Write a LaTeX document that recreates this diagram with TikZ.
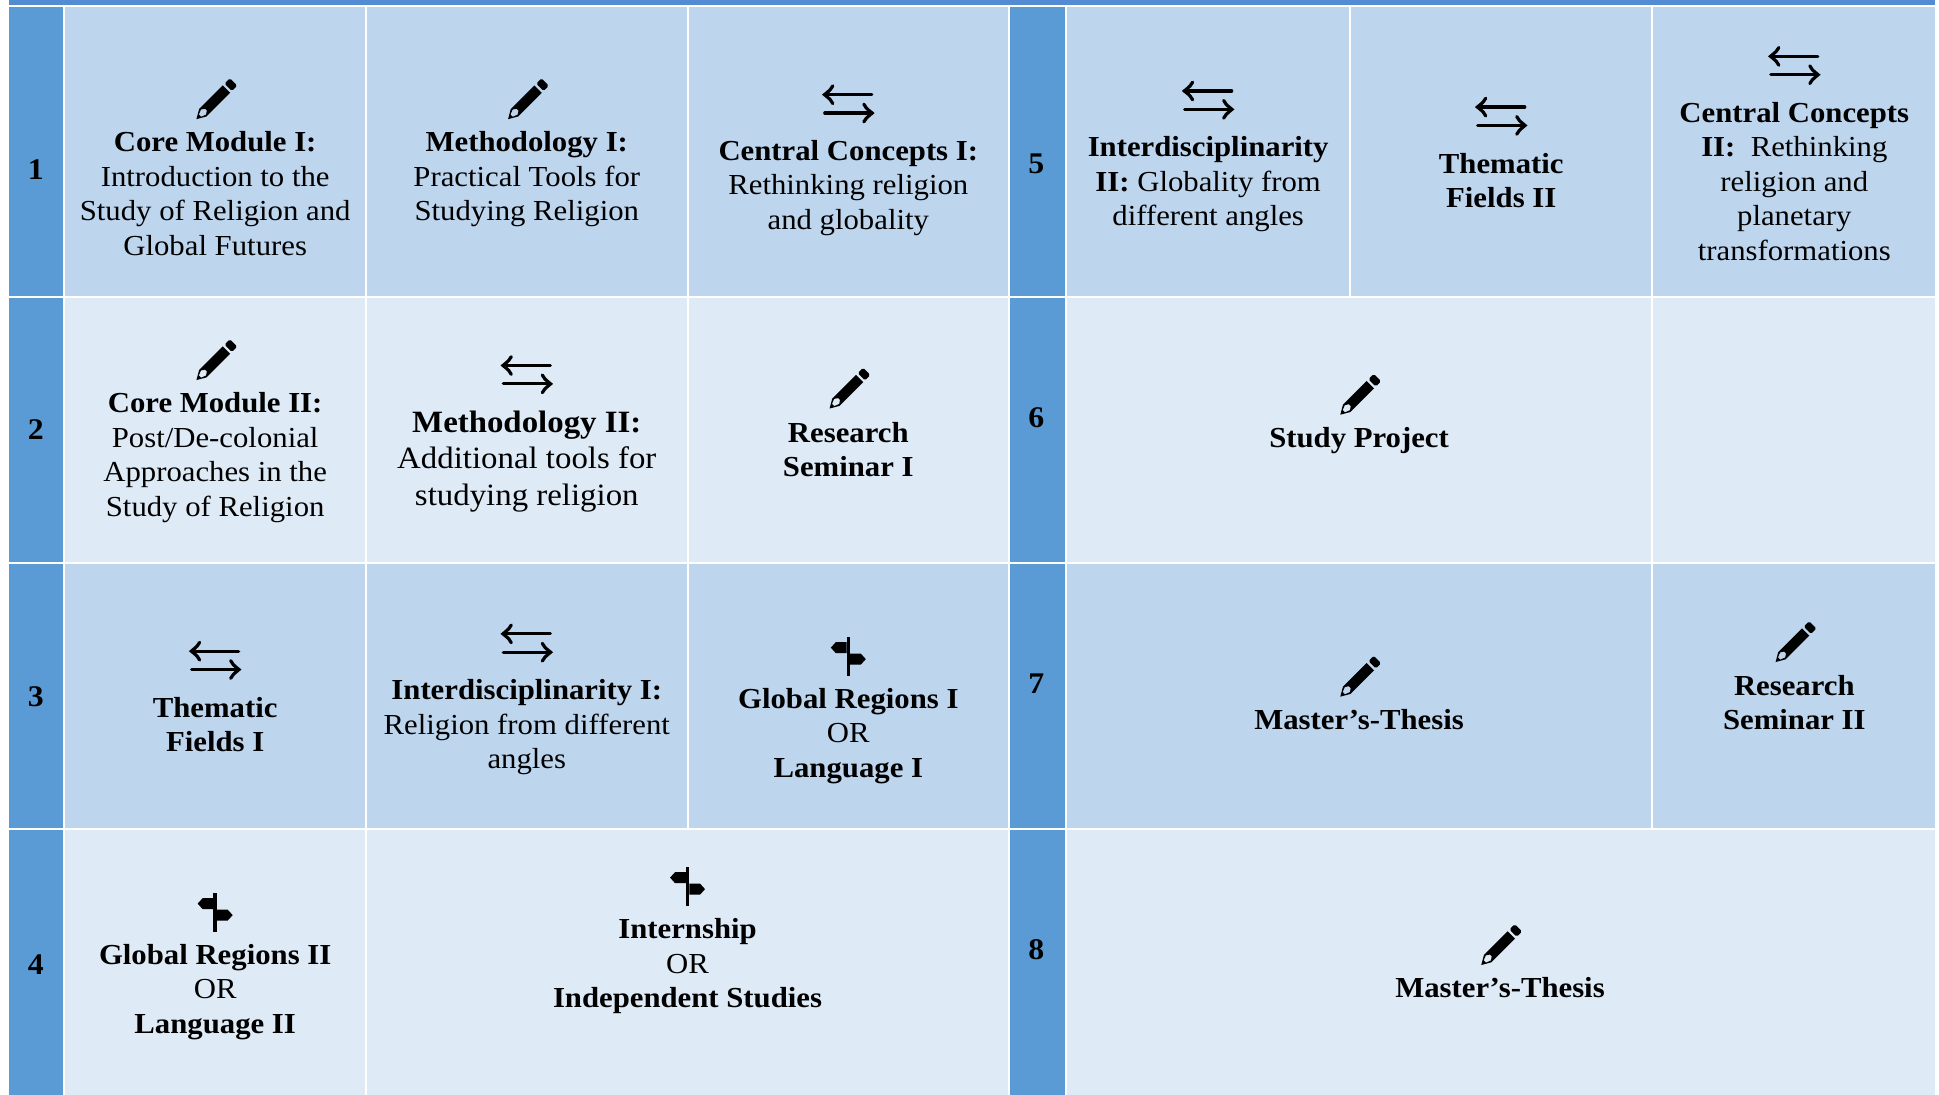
\documentclass[tikz,border=0pt]{standalone}
\usepackage{fontspec}
\setmainfont{Liberation Serif}[FakeStretch=1.06]
\definecolor{hdr}{HTML}{5B9BD5}
\definecolor{topbar}{HTML}{538CD3}
\definecolor{dk}{HTML}{BDD5ED}
\definecolor{lt}{HTML}{DEEAF6}
\newcommand{\BF}[1]{\textbf{#1}}
\tikzset{
  pencilicon/.pic={
    \begin{scope}[x=1pt,y=1pt,yshift=-1.5pt,rotate=45]
      \fill[black,even odd rule] (-26.5,0) -- (-17.5,5.2) -- (-15,5.2) -- (16,5.2) -- (16,-5.2) -- (-15,-5.2) -- (-17.5,-5.2) -- cycle
        (-21.5,-1.6) -- (-21.5,1.6) -- (-16.5,3.6) -- (-13,1.3) -- (-13,-1.3) -- (-16.5,-3.6) -- cycle;
      \fill[black,rounded corners=1.6pt] (18.5,5.2) -- (26,5.2) -- (26,-5.2) -- (18.5,-5.2) -- cycle;
    \end{scope}
  },
  arrowsicon/.pic={
    \begin{scope}[x=1pt,y=-1pt,line width=3.2pt,line cap=round,black]
      \draw (23.5,-9.2) -- (-23.5,-9.2);
      \draw (-15.5,-18) .. controls (-17.5,-14.5) .. (-23.8,-9.2) .. controls (-17.5,-4) .. (-15.5,-0.3);
      \draw (-23.5,9.2) -- (23.5,9.2);
      \draw (15.5,0.3) .. controls (17.5,4) .. (23.8,9.2) .. controls (17.5,14.5) .. (15.5,18);
    \end{scope}
  },
  signicon/.pic={
    \begin{scope}[x=1pt,y=-1pt]
      \fill[black] (-1.7,-19.5) rectangle (1.7,19);
      \fill[black] (-1.7,-14.5) -- (-12.5,-14.5) -- (-17.5,-9) -- (-12.5,-3.5) -- (-1.7,-3.5) -- cycle;
      \fill[black] (1.7,-3) -- (12.5,-3) -- (17.5,2.5) -- (12.5,8) -- (1.7,8) -- cycle;
    \end{scope}
  },
  cellbox/.style={inner sep=0pt,outer sep=0pt,anchor=north west},
  label/.style={inner sep=0pt,outer sep=0pt,anchor=center,align=center,black,
    font=\fontsize{29}{34.5}\selectfont},
  biglabel/.style={label,font=\fontsize{31}{36.5}\selectfont},
  numlabel/.style={inner sep=0pt,outer sep=0pt,anchor=center,black,font=\fontsize{30}{34}\selectfont\bfseries},
}
\newcommand{\cellrect}[6]{% name x0 y0 x1 y1 colour
  \node[cellbox,fill=#6,minimum width=#4pt-#2pt,minimum height=#5pt-#3pt] (#1) at (#2pt,-#3pt) {};}
\begin{document}
\begin{tikzpicture}
\useasboundingbox (0,0) rectangle (1939pt,-1095pt);
\fill[white] (0,0) rectangle (1939pt,-1095pt);
\node[cellbox,fill=topbar,minimum width=1926pt,minimum height=5pt] (bar) at (9pt,0pt) {};
% year column 1
\cellrect{h1}{9}{6.7}{63}{295.7}{hdr}
\cellrect{h2}{9}{297.7}{63}{562.3}{hdr}
\cellrect{h3}{9}{564}{63}{828}{hdr}
\cellrect{h4}{9}{829.5}{63}{1095}{hdr}
\cellrect{h5}{1010}{6.7}{1065}{295.7}{hdr}
\cellrect{h6}{1010}{297.7}{1065}{562.3}{hdr}
\cellrect{h7}{1010}{564}{1065}{828}{hdr}
\cellrect{h8}{1010}{829.5}{1065}{1095}{hdr}
% row 1
\cellrect{a1}{65}{6.7}{365}{295.7}{dk}
\cellrect{a2}{367}{6.7}{687}{295.7}{dk}
\cellrect{a3}{689}{6.7}{1008}{295.7}{dk}
\cellrect{a4}{1067}{6.7}{1349}{295.7}{dk}
\cellrect{a5}{1351}{6.7}{1651}{295.7}{dk}
\cellrect{a6}{1653}{6.7}{1935}{295.7}{dk}
% row 2
\cellrect{b1}{65}{297.7}{365}{562.3}{lt}
\cellrect{b2}{367}{297.7}{687}{562.3}{lt}
\cellrect{b3}{689}{297.7}{1008}{562.3}{lt}
\cellrect{b4}{1067}{297.7}{1651}{562.3}{lt}
\cellrect{b5}{1653}{297.7}{1935}{562.3}{lt}
% row 3
\cellrect{c1}{65}{564}{365}{828}{dk}
\cellrect{c2}{367}{564}{687}{828}{dk}
\cellrect{c3}{689}{564}{1008}{828}{dk}
\cellrect{c4}{1067}{564}{1651}{828}{dk}
\cellrect{c5}{1653}{564}{1935}{828}{dk}
% row 4
\cellrect{d1}{65}{829.5}{365}{1095}{lt}
\cellrect{d2}{367}{829.5}{1008}{1095}{lt}
\cellrect{d3}{1067}{829.5}{1935}{1095}{lt}
\begin{scope}[x=1.2366pt,y=-1.2366pt]
% year numbers
\node[numlabel] (n1) at (29,137) {1};
\node[numlabel] (n2) at (29,347) {2};
\node[numlabel] (n3) at (29,563) {3};
\node[numlabel] (n4) at (29,780) {4};
\node[numlabel] (n5) at (838,132.5) {5};
\node[numlabel] (n6) at (838,338) {6};
\node[numlabel] (n7) at (838,553) {7};
\node[numlabel] (n8) at (838,768) {8};
% row 1
\pic at (174,80) {pencilicon};
\node[label] (t1) at (174,156.5) {\BF{Core Module I:}\\Introduction to the\\Study of Religion and\\Global Futures};
\pic at (426,80) {pencilicon};
\node[label] (t2) at (426,145) {\BF{Methodology I:}\\Practical Tools for\\Studying Religion};
\pic at (686,84) {arrowsicon};
\node[label] (t3) at (686,152) {\BF{Central Concepts I:}\\Rethinking religion\\and globality};
\pic at (977,81) {arrowsicon};
\node[label] (t4) at (977,149) {\BF{Interdisciplinarity}\\\BF{II:} Globality from\\different angles};
\pic at (1214,94) {arrowsicon};
\node[label] (t5) at (1214,146) {\BF{Thematic}\\\BF{Fields II}};
\pic at (1451,53) {arrowsicon};
\node[label] (t6) at (1451,146.5) {\BF{Central Concepts}\\\BF{II:}\ \ Rethinking\\religion and\\planetary\\transformations};
% row 2
\pic at (174,291) {pencilicon};
\node[label] (t7) at (174,370) {\BF{Core Module II:}\\Post/De-colonial\\Approaches in the\\Study of Religion};
\pic at (426,303) {arrowsicon};
\node[biglabel] (t8) at (426,373) {\BF{Methodology II:}\\Additional tools for\\studying religion};
\pic at (686,314) {pencilicon};
\node[label] (t9) at (686,363.5) {\BF{Research}\\\BF{Seminar I}};
\pic at (1099,319) {pencilicon};
\node[label] (t10) at (1099,356) {\BF{Study Project}};
% row 3
\pic at (174,534) {arrowsicon};
\node[label] (t11) at (174,586) {\BF{Thematic}\\\BF{Fields I}};
\pic at (426,520) {arrowsicon};
\node[label] (t12) at (426,588) {\BF{Interdisciplinarity I:}\\Religion from different\\angles};
\pic at (686,531) {signicon};
\node[label] (t13) at (686,595) {\BF{Global Regions I}\\OR\\\BF{Language I}};
\pic at (1099,547) {pencilicon};
\node[label] (t14) at (1099,582) {\BF{Master’s-Thesis}};
\pic at (1451,519) {pencilicon};
\node[label] (t15) at (1451,568) {\BF{Research}\\\BF{Seminar II}};
% row 4
\pic at (174,738) {signicon};
\node[label] (t16) at (174,802) {\BF{Global Regions II}\\OR\\\BF{Language II}};
\pic at (556,717) {signicon};
\node[label] (t17) at (556,781.5) {\BF{Internship}\\OR\\\BF{Independent Studies}};
\pic at (1213,764) {pencilicon};
\node[label] (t18) at (1213,799) {\BF{Master’s-Thesis}};
\end{scope}
\end{tikzpicture}
\end{document}
